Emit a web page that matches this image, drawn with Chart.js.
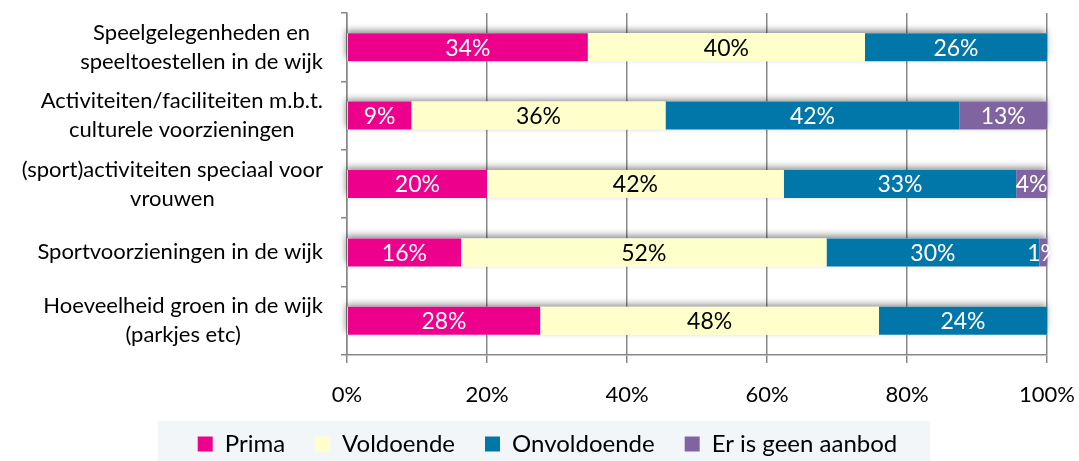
<!DOCTYPE html>
<html><head><meta charset="utf-8">
<script src="https://cdn.jsdelivr.net/npm/chart.js@4/dist/chart.umd.min.js"></script>
<style>html,body{margin:0;padding:0;background:#fff;overflow:hidden}</style>
</head><body>
<canvas id="c" width="1079" height="461"></canvas>
<script>
const categories = [
  ["Speelgelegenheden en", "speeltoestellen in de wijk"],
  ["Activiteiten/faciliteiten m.b.t.", "culturele voorzieningen"],
  ["(sport)activiteiten speciaal voor", "vrouwen"],
  ["Sportvoorzieningen in de wijk"],
  ["Hoeveelheid groen in de wijk", "(parkjes etc)"]
];
const seriesNames = ["Prima", "Voldoende", "Onvoldoende", "Er is geen aanbod"];
const prima       = [34.4,  9.2, 20.0, 16.3, 27.6];
const voldoende   = [39.6, 36.3, 42.4, 52.2, 48.4];
const onvoldoende = [26.0, 42.0, 33.2, 30.4, 24.0];
const geenAanbod  = [ 0.0, 12.5,  4.4,  1.1,  0.0];
const xTickLabels = ["0%", "20%", "40%", "60%", "80%", "100%"];

const colors = ["#EC008C", "#FFFFCC", "#0077A8", "#8064A2"];
const labelColors = ["#ffffff", "#000000", "#ffffff", "#ffffff"];
const FONT = "Lato";

const shadowPlugin = {
  id: 'barShadow',
  beforeDatasetsDraw(chart) {
    const ctx = chart.ctx, xs = chart.scales.x;
    const meta0 = chart.getDatasetMeta(0);
    meta0.data.forEach((bar, i) => {
      let total = 0;
      chart.data.datasets.forEach(d => total += d.data[i]);
      const l = xs.getPixelForValue(0), r = xs.getPixelForValue(total);
      ctx.save();
      ctx.shadowColor = 'rgba(0,0,0,0.45)';
      ctx.shadowBlur = 7;
      ctx.shadowOffsetX = -1;
      ctx.shadowOffsetY = -3;
      ctx.fillStyle = '#fff';
      ctx.fillRect(l, bar.y - bar.height / 2, r - l, bar.height);
      ctx.restore();
    });
  }
};

const valueLabelPlugin = {
  id: 'valueLabels',
  afterDatasetsDraw(chart) {
    const ctx = chart.ctx, ca = chart.chartArea;
    ctx.save();
    ctx.beginPath();
    ctx.rect(ca.left, ca.top, ca.right - ca.left + 3, ca.bottom - ca.top);
    ctx.clip();
    ctx.font = `23px ${FONT}`;
    ctx.textAlign = 'center';
    ctx.textBaseline = 'middle';
    chart.data.datasets.forEach((ds, di) => {
      const meta = chart.getDatasetMeta(di);
      meta.data.forEach((bar, i) => {
        const v = ds.data[i];
        if (!v) return;
        ctx.fillStyle = labelColors[di];
        ctx.fillText(Math.round(v) + '%', (bar.base + bar.x) / 2, bar.y + 1);
      });
    });
    ctx.restore();
  }
};

const catLabelPlugin = {
  id: 'catLabels',
  afterDraw(chart) {
    const ctx = chart.ctx, ys = chart.scales.y;
    ctx.save();
    ctx.font = `22px ${FONT}`;
    ctx.fillStyle = '#000';
    ctx.textAlign = 'center';
    ctx.textBaseline = 'middle';
    const lh = 29, right = 323;
    categories.forEach((lines, i) => {
      const cy = ys.getPixelForValue(i);
      const w = Math.max(...lines.map(t => ctx.measureText(t).width));
      const cx = right - w / 2;
      lines.forEach((t, k) => {
        ctx.fillText(t, cx, cy + (k - (lines.length - 1) / 2) * lh);
      });
    });
    ctx.restore();
  }
};

const legendBgPlugin = {
  id: 'legendBg',
  beforeDraw(chart) {
    const ctx = chart.ctx;
    ctx.save();
    ctx.fillStyle = '#F2F6F9';
    ctx.fillRect(158, 421, 772, 40);
    ctx.restore();
  }
};

function build() {
  const seriesData = [prima, voldoende, onvoldoende, geenAanbod];
  new Chart(document.getElementById('c'), {
    type: 'bar',
    data: {
      labels: categories.map(c => c.join(' ')),
      datasets: seriesNames.map((n, i) => ({
        label: n,
        data: seriesData[i],
        backgroundColor: colors[i],
        borderWidth: 0,
        barPercentage: 0.41,
        categoryPercentage: 1.0
      }))
    },
    options: {
      indexAxis: 'y',
      responsive: false,
      animation: false,
      layout: { padding: { top: 13, right: 0, left: 16, bottom: -5 } },
      scales: {
        x: {
          stacked: true, min: 0, max: 100,
          afterFit: s => { s.height = 47; s.paddingRight = 32; s.paddingLeft = 0; },
          grid: { color: '#888', lineWidth: 1.5, tickLength: 8, drawOnChartArea: true },
          border: { display: true, color: '#888', width: 1.5 },
          ticks: {
            stepSize: 20, padding: 19, color: '#000',
            font: { family: FONT, size: 22 },
            callback: (v) => xTickLabels[Math.round(v / 20)]
          }
        },
        y: {
          stacked: true,
          afterFit: s => { s.width = 331; },
          grid: { offset: true, drawOnChartArea: false, color: '#888', lineWidth: 1.5, tickLength: 6 },
          border: { display: true, color: '#888', width: 1.5 },
          ticks: { display: false }
        }
      },
      plugins: {
        legend: {
          position: 'bottom',
          labels: {
            boxWidth: 15, boxHeight: 15, padding: 30, color: '#000',
            font: { family: FONT, size: 24 }
          }
        },
        tooltip: { enabled: false }
      }
    },
    plugins: [legendBgPlugin, shadowPlugin, valueLabelPlugin, catLabelPlugin]
  });
}
(document.fonts ? Promise.all([document.fonts.load(`22px ${FONT}`), document.fonts.load(`24px ${FONT}`)]).catch(()=>{}) : Promise.resolve()).then(build);
</script>
</body></html>
